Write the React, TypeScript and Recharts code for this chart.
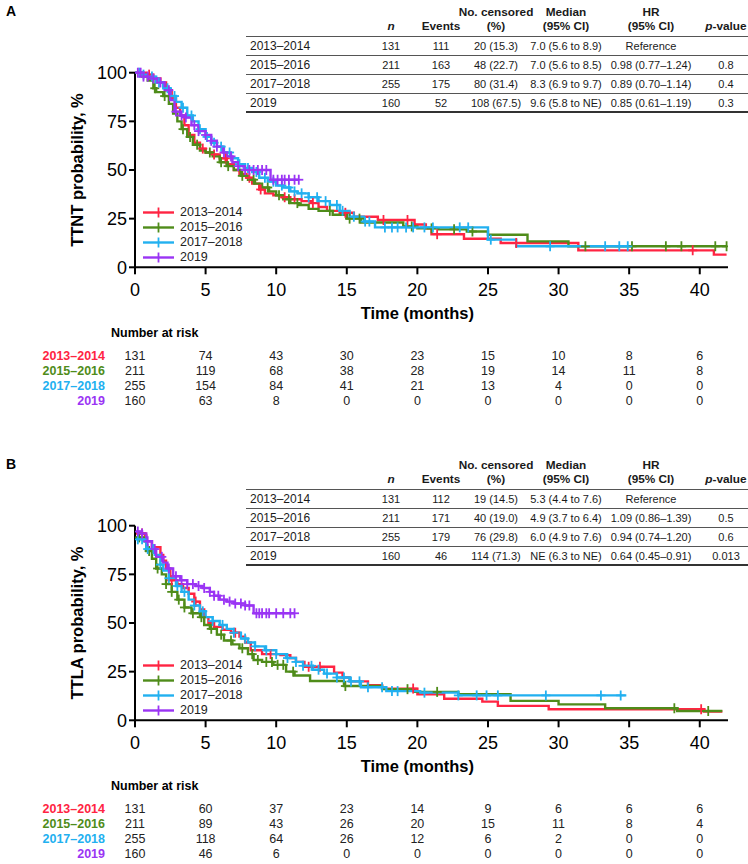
import React from "react";
import { ComposedChart, Line, Scatter, XAxis, YAxis, Legend } from "recharts";

const FONT = '"Liberation Sans", Arial, Helvetica, sans-serif';

const GROUPS = ["2013–2014", "2015–2016", "2017–2018", "2019"];
const COLORS = ["#ff2442", "#4f8c1a", "#22b0f0", "#9a34f4"];
const TIME_TICKS = [0, 5, 10, 15, 20, 25, 30, 35, 40];
const Y_TICKS = [0, 25, 50, 75, 100];

// Panel A – TTNT step curves [month, %]; last point = end of follow-up
const ttnt2013 = [[0, 100], [0.8, 99], [1.3, 97], [1.8, 95], [2.2, 91], [2.6, 87], [2.9, 82], [3.2, 78], [3.5, 73], [3.8, 68], [4.2, 64], [4.6, 61], [5.0, 59], [5.5, 58], [6.0, 56], [6.5, 53], [7.0, 50], [7.4, 48], [7.9, 46], [8.3, 43], [8.8, 40], [9.2, 38], [9.8, 37], [10.4, 36], [11.0, 35], [11.8, 34], [12.5, 33], [13.0, 31], [13.6, 29], [14.5, 28], [15.5, 26], [17.2, 24.3], [19.8, 22], [20.6, 20], [21.0, 17], [23.3, 14.7], [25.9, 12.5], [31.4, 8.7], [41.0, 6.5], [41.9, 6.5]];
const ttnt2015 = [[0, 100], [0.5, 98], [0.9, 96], [1.3, 92], [1.5, 90], [2.0, 88], [2.4, 84], [2.7, 79], [3.0, 75], [3.3, 71], [3.7, 67], [4.1, 63], [4.6, 60], [5.0, 59], [5.5, 57], [6.0, 54], [6.5, 52], [7.0, 50], [7.5, 47], [8.0, 45], [8.5, 43], [9.0, 41], [9.5, 39], [10.0, 37], [10.5, 35], [11.0, 33], [11.6, 32], [12.3, 30], [13.0, 29], [14.0, 27], [15.0, 25], [16.0, 23], [19.0, 21], [20.0, 20], [21.5, 19.5], [23.5, 18.4], [25.0, 16.7], [27.8, 13.3], [30.7, 10.8], [41.9, 10.8]];
const ttnt2017 = [[0, 100], [0.5, 99], [1.0, 98], [1.5, 95], [2.0, 92], [2.5, 88], [2.9, 85], [3.3, 82], [3.7, 78], [4.1, 75], [4.5, 71], [5.0, 67], [5.4, 64], [5.8, 62], [6.3, 59], [6.8, 56], [7.3, 53], [7.8, 51], [8.3, 49], [8.8, 46], [9.4, 44], [10.0, 42], [10.5, 41], [11.0, 39], [11.5, 38], [12.3, 36], [13.0, 34], [13.8, 32], [14.5, 29], [15.2, 26], [16.2, 23.5], [17.0, 20.5], [25.0, 14.2], [27.0, 10.8], [34.9, 10.8]];
const ttnt2019 = [[0, 100], [0.6, 98], [1.0, 97], [1.6, 95], [2.1, 91], [2.5, 86], [2.8, 80], [3.2, 78], [3.6, 77], [4.0, 73], [4.5, 70], [5.0, 68], [5.4, 65], [5.8, 62], [6.2, 59], [6.5, 57], [6.9, 54], [7.3, 52], [7.7, 50], [9.6, 45], [11.6, 45]];

const ttntCens2013 = [1.0, 4.8, 5.6, 6.4, 8.1, 8.9, 10.6, 11.3, 12.6, 14.9, 17.6, 19.3, 21.4, 27.0, 39.5];
const ttntCens2015 = [1.4, 2.1, 3.4, 3.9, 4.4, 5.3, 6.1, 6.6, 7.6, 8.4, 9.4, 10.2, 10.9, 11.5, 13.8, 15.2, 15.9, 19.6, 21.0, 22.6, 23.9, 31.9, 35.2, 37.6, 38.7, 41.1, 41.9];
const ttntCens2017 = [0.3, 0.6, 1.2, 1.7, 2.3, 2.8, 3.4, 4.0, 4.6, 5.1, 5.6, 6.1, 6.7, 7.4, 8.0, 8.6, 9.2, 9.8, 10.4, 10.9, 11.3, 11.8, 12.3, 12.9, 13.5, 14.3, 14.7, 15.5, 16.3, 16.6, 17.7, 18.2, 18.6, 19.2, 19.7, 20.5, 21.1, 23.0, 23.6, 25.2, 29.4, 33.3, 34.3, 34.9];
const ttntCens2019 = [0.2, 0.4, 0.6, 0.9, 1.3, 1.8, 2.4, 2.9, 3.3, 3.6, 4.2, 4.5, 5.0, 5.4, 5.8, 6.3, 6.8, 7.3, 7.8, 8.1, 8.4, 8.7, 9.0, 9.3, 9.8, 10.1, 10.4, 10.6, 10.9, 11.3, 11.6];

const ttntRisk2013 = [131, 74, 43, 30, 23, 15, 10, 8, 6];
const ttntRisk2015 = [211, 119, 68, 38, 28, 19, 14, 11, 8];
const ttntRisk2017 = [255, 154, 84, 41, 21, 13, 4, 0, 0];
const ttntRisk2019 = [160, 63, 8, 0, 0, 0, 0, 0, 0];

// Panel B – TTLA
const ttla2013 = [[0, 96], [0.7, 95], [0.8, 92], [1.2, 89], [1.8, 85], [2.0, 82], [2.2, 78], [2.5, 72], [3.0, 70], [3.4, 68], [3.8, 65], [4.2, 61], [4.6, 57], [4.9, 53], [5.2, 50], [5.6, 48], [6.2, 46.5], [6.8, 45], [7.4, 43], [7.8, 40], [8.2, 36], [9.0, 34], [10.3, 33.5], [11.0, 32], [11.4, 30], [12.0, 27.5], [14.1, 24.5], [14.7, 22], [15.2, 20], [16.5, 18], [17.5, 16.3], [20.0, 13.4], [21.9, 11.1], [24.6, 9.6], [25.7, 7.4], [29.3, 5.7], [40.3, 4.5], [41.6, 4.5]];
const ttla2015 = [[0, 94], [0.7, 92], [0.8, 87], [1.2, 83], [1.5, 78], [1.9, 75], [2.2, 70], [2.6, 66], [3.0, 62], [3.5, 58], [4.0, 55], [4.6, 53], [4.9, 49], [5.3, 47], [5.8, 44], [6.3, 41], [6.9, 39], [7.4, 37], [8.0, 34], [8.4, 31], [9.0, 30], [9.8, 28.5], [10.7, 25], [11.3, 23], [12.4, 20.2], [14.8, 17.6], [17.5, 16], [19.8, 14.6], [22.9, 13.4], [26.6, 10], [30.0, 8.2], [33.3, 6.2], [38.4, 4.8], [41.6, 4.8]];
const ttla2017 = [[0, 93], [0.6, 92], [0.8, 88], [1.4, 85], [1.8, 80], [2.0, 77], [2.4, 73], [2.9, 69], [3.3, 66], [3.8, 62], [4.2, 59], [4.6, 56], [5.0, 53], [5.5, 51], [6.0, 49], [6.5, 47], [7.0, 45], [7.5, 42], [8.0, 40], [8.5, 38], [9.2, 36], [10.0, 34], [10.7, 32], [11.4, 30], [11.9, 28], [12.6, 26], [13.4, 24], [14.3, 22], [15.2, 20], [16.0, 17], [17.8, 15], [20.2, 14.2], [22.9, 12.8], [34.8, 12.8]];
const ttla2019 = [[0, 97], [0.5, 96], [0.8, 92], [1.2, 88], [1.5, 84], [2.0, 81], [2.3, 78], [2.7, 74], [3.2, 72], [3.7, 70], [4.3, 69], [4.8, 68], [5.3, 66], [5.6, 64], [6.0, 62], [6.5, 61], [7.0, 60], [7.8, 59], [8.4, 55], [11.3, 55]];

const ttlaCens2013 = [0.5, 2.6, 4.3, 7.1, 9.6, 12.3, 13.1, 19.7, 40.1];
const ttlaCens2015 = [0.3, 1.0, 1.6, 2.2, 2.6, 3.1, 3.5, 4.1, 4.7, 5.4, 6.1, 6.8, 7.6, 8.3, 8.7, 9.3, 9.7, 10.1, 10.5, 11.2, 14.9, 19.3, 21.4, 38.2, 40.6];
const ttlaCens2017 = [0.2, 0.5, 0.9, 1.3, 1.8, 2.4, 3.0, 3.5, 4.2, 4.8, 5.5, 6.2, 7.0, 7.8, 8.5, 9.3, 10.0, 10.8, 11.4, 11.9, 12.5, 13.0, 13.6, 14.3, 14.8, 15.3, 15.9, 16.5, 17.5, 18.2, 18.6, 20.5, 22.9, 24.2, 24.9, 25.7, 29.1, 33.0, 34.4];
const ttlaCens2019 = [0.2, 0.5, 0.9, 1.4, 1.9, 2.4, 2.9, 3.3, 3.7, 4.1, 4.5, 4.9, 5.3, 5.6, 5.9, 6.3, 6.7, 7.1, 7.5, 7.8, 8.1, 8.6, 8.8, 9.0, 9.3, 9.5, 10.0, 10.5, 11.0, 11.3];

const ttlaRisk2013 = [131, 60, 37, 23, 14, 9, 6, 6, 6];
const ttlaRisk2015 = [211, 89, 43, 26, 20, 15, 11, 8, 4];
const ttlaRisk2017 = [255, 118, 64, 26, 12, 6, 2, 0, 0];
const ttlaRisk2019 = [160, 46, 6, 0, 0, 0, 0, 0, 0];

// summary tables
const ttntRows = [
  ["2013–2014", "131", "111", "20 (15.3)", "7.0 (5.6 to 8.9)", "Reference", ""],
  ["2015–2016", "211", "163", "48 (22.7)", "7.0 (5.6 to 8.5)", "0.98 (0.77–1.24)", "0.8"],
  ["2017–2018", "255", "175", "80 (31.4)", "8.3 (6.9 to 9.7)", "0.89 (0.70–1.14)", "0.4"],
  ["2019", "160", "52", "108 (67.5)", "9.6 (5.8 to NE)", "0.85 (0.61–1.19)", "0.3"],
];
const ttlaRows = [
  ["2013–2014", "131", "112", "19 (14.5)", "5.3 (4.4 to 7.6)", "Reference", ""],
  ["2015–2016", "211", "171", "40 (19.0)", "4.9 (3.7 to 6.4)", "1.09 (0.86–1.39)", "0.5"],
  ["2017–2018", "255", "179", "76 (29.8)", "6.0 (4.9 to 7.6)", "0.94 (0.74–1.20)", "0.6"],
  ["2019", "160", "46", "114 (71.3)", "NE (6.3 to NE)", "0.64 (0.45–0.91)", "0.013"],
];

const COL_X = [250, 391, 441, 496, 566, 651, 726];

const PLOT_TOP = 72.7;
const PLOT_H = 194.6;
const AXIS_Y = PLOT_TOP + PLOT_H;
const MAIN_AXIS_H = 84.3;
const RISK_H = 15;
const CHART_H = AXIS_Y + MAIN_AXIS_H + 4 * RISK_H + 6;

type Pt = number[];

function stepAt(curve: Pt[], t: number) {
  let s = curve[0][1];
  for (const [x, y] of curve) {
    if (x <= t) s = y;
    else break;
  }
  return s;
}

const plusShape = (color: string) => (p: any) => {
  const { cx, cy } = p;
  if (cx == null || cy == null) return <g />;
  return (
    <g stroke={color} strokeWidth={1.8}>
      <line x1={cx - 4.5} x2={cx + 4.5} y1={cy} y2={cy} />
      <line x1={cx} x2={cx} y1={cy - 5} y2={cy + 5} />
    </g>
  );
};

function LegendBox() {
  return (
    <div style={{ fontFamily: FONT, fontSize: 12.5, color: "#222" }}>
      {GROUPS.map((g, i) => (
        <div key={g} style={{ display: "flex", alignItems: "center", height: 15 }}>
          <svg width={34} height={15} style={{ display: "block" }}>
            <line x1={3} x2={34} y1={7.5} y2={7.5} stroke={COLORS[i]} strokeWidth={2.4} />
            <line x1={18.5} x2={18.5} y1={2.5} y2={12.5} stroke={COLORS[i]} strokeWidth={1.8} />
          </svg>
          <span style={{ marginLeft: 6, lineHeight: "15px" }}>{g}</span>
        </div>
      ))}
    </div>
  );
}

function StatsTable({ rows }: { rows: string[][] }) {
  const cell = (text: React.ReactNode, cx: number, cy: number, bold = false, key?: string) => (
    <div
      key={key}
      style={{
        position: "absolute",
        left: cx - 70,
        width: 140,
        top: cy - 8,
        height: 16,
        lineHeight: "16px",
        textAlign: "center",
        fontWeight: bold ? 700 : 400,
        fontSize: bold ? 11.8 : 11,
        whiteSpace: "nowrap",
      }}
    >
      {text}
    </div>
  );
  const lines = [36, 55, 74, 93, 112];
  return (
    <div style={{ position: "absolute", left: 0, top: 0, width: 748, height: 120, fontFamily: FONT, color: "#1a1a1a" }}>
      {cell("No. censored", COL_X[3], 11.7, true, "h1")}
      {cell("Median", COL_X[4], 11.7, true, "h2")}
      {cell("HR", COL_X[5], 11.7, true, "h3")}
      {cell(<i>n</i>, COL_X[1], 26, true, "h4")}
      {cell("Events", COL_X[2], 26, true, "h5")}
      {cell("(%)", COL_X[3], 26, true, "h6")}
      {cell("(95% CI)", COL_X[4], 26, true, "h7")}
      {cell("(95% CI)", COL_X[5], 26, true, "h8")}
      {cell(<span><i>p</i>-value</span>, 726, 26, true, "h9")}
      {lines.map((y, i) => (
        <div
          key={"l" + i}
          style={{
            position: "absolute",
            left: 246,
            width: 502,
            top: y - (i === 4 ? 1 : 0.5),
            height: i === 4 ? 2 : 1,
            background: i === 4 ? "#333" : "#555",
          }}
        />
      ))}
      {rows.map((r, i) => {
        const cy = 45.5 + i * 19;
        return (
          <React.Fragment key={"r" + i}>
            <div
              style={{
                position: "absolute",
                left: COL_X[0],
                top: cy - 8,
                height: 16,
                lineHeight: "16px",
                fontSize: 12,
                whiteSpace: "nowrap",
              }}
            >
              {r[0]}
            </div>
            {r.slice(1).map((v, j) => cell(v, COL_X[j + 1], cy, false, "c" + i + "-" + j))}
          </React.Fragment>
        );
      })}
    </div>
  );
}

interface PanelProps {
  top: number;
  letter: string;
  yLabel: string;
  curves: Pt[][];
  censors: number[][];
  risks: number[][];
  rows: string[][];
}

function KMPanel({ top, letter, yLabel, curves, censors, risks, rows }: PanelProps) {
  return (
    <div style={{ position: "absolute", left: 0, top, width: 748, height: CHART_H }}>
      <div style={{ position: "absolute", left: 6, top: 3, fontFamily: FONT, fontWeight: 700, fontSize: 14 }}>{letter}</div>
      <ComposedChart
        width={748}
        height={CHART_H}
        margin={{ top: PLOT_TOP, right: 20, bottom: 6, left: 75 }}
        style={{ fontFamily: FONT }}
      >
        <YAxis
          dataKey="s"
          type="number"
          domain={[0, 100]}
          ticks={Y_TICKS}
          interval={0}
          width={60}
          axisLine={{ stroke: "#000", strokeWidth: 2 }}
          tickLine={{ stroke: "#000", strokeWidth: 2 }}
          tickSize={6}
          tickMargin={2}
          tick={{ fontSize: 18, fill: "#000", fontFamily: FONT }}
          label={(p: any) => {
            const vb = (p && p.viewBox) || { x: 75, y: PLOT_TOP, width: 60, height: PLOT_H };
            const x = vb.x + 2;
            const y = vb.y + vb.height / 2;
            return (
              <text
                x={x}
                y={y}
                transform={`rotate(-90 ${x} ${y})`}
                textAnchor="middle"
                dy="0.36em"
                fontSize={16.5}
                fontWeight={700}
                fontFamily={FONT}
                fill="#000"
              >
                {yLabel}
              </text>
            );
          }}
        />
        <XAxis
          xAxisId="main"
          dataKey="t"
          type="number"
          domain={[0, 42]}
          allowDataOverflow
          ticks={TIME_TICKS}
          interval={0}
          height={MAIN_AXIS_H}
          axisLine={{ stroke: "#000", strokeWidth: 2 }}
          tickLine={{ stroke: "#000", strokeWidth: 2 }}
          tickSize={7}
          tickMargin={9.4}
          tick={{ fontSize: 18, fill: "#000", fontFamily: FONT }}
          label={(p: any) => {
            const vb = (p && p.viewBox) || { x: 135, y: AXIS_Y, width: 593, height: MAIN_AXIS_H };
            const cx = vb.x + (vb.width * 20) / 42;
            return (
              <g fontFamily={FONT} fontWeight={700} fill="#000">
                <text x={cx} y={vb.y + 51.8} textAnchor="middle" fontSize={16.5}>
                  Time (months)
                </text>
                <text x={111} y={vb.y + 69.3} textAnchor="start" fontSize={12.5}>
                  Number at risk
                </text>
              </g>
            );
          }}
        />
        {risks.map((row, i) => (
          <XAxis
            key={"risk" + i}
            xAxisId={"risk" + i}
            dataKey="t"
            type="number"
            domain={[0, 42]}
            allowDataOverflow
            ticks={TIME_TICKS}
            interval={0}
            height={RISK_H}
            axisLine={false}
            tickLine={false}
            tickSize={0}
            tickMargin={0}
            tickFormatter={(v: number) => String(row[TIME_TICKS.indexOf(v)])}
            tick={{ fontSize: 12.5, fill: "#222", fontFamily: FONT }}
            label={(p: any) => {
              const vb = (p && p.viewBox) || { x: 135, y: AXIS_Y + MAIN_AXIS_H + i * RISK_H, width: 593, height: RISK_H };
              return (
                <text
                  x={105}
                  y={vb.y + 8.9}
                  textAnchor="end"
                  fontSize={12.5}
                  fontWeight={700}
                  fontFamily={FONT}
                  fill={COLORS[i]}
                >
                  {GROUPS[i]}
                </text>
              );
            }}
          />
        ))}
        {curves.map((curve, i) => (
          <Line
            key={"line" + i}
            xAxisId="main"
            data={curve.map(([t, s]) => ({ t, s }))}
            dataKey="s"
            type="stepAfter"
            stroke={COLORS[i]}
            strokeWidth={2.4}
            dot={false}
            activeDot={false}
            legendType="none"
            isAnimationActive={false}
          />
        ))}
        {censors.map((times, i) => (
          <Scatter
            key={"cens" + i}
            xAxisId="main"
            data={times.map((t) => ({ t, s: stepAt(curves[i], t) }))}
            dataKey="s"
            shape={plusShape(COLORS[i])}
            legendType="none"
            isAnimationActive={false}
          />
        ))}
        <Legend
          layout="vertical"
          align="center"
          verticalAlign="middle"
          wrapperStyle={{ left: 140, top: AXIS_Y - 62.8, width: 120 }}
          content={() => <LegendBox />}
        />
      </ComposedChart>
      <StatsTable rows={rows} />
    </div>
  );
}

export default function App() {
  return (
    <div style={{ position: "absolute", left: 0, top: 0, width: 748, height: 864, background: "#fff" }}>
      <KMPanel
        top={0}
        letter="A"
        yLabel="TTNT probability, %"
        curves={[ttnt2013, ttnt2015, ttnt2017, ttnt2019]}
        censors={[ttntCens2013, ttntCens2015, ttntCens2017, ttntCens2019]}
        risks={[ttntRisk2013, ttntRisk2015, ttntRisk2017, ttntRisk2019]}
        rows={ttntRows}
      />
      <KMPanel
        top={453}
        letter="B"
        yLabel="TTLA probability, %"
        curves={[ttla2013, ttla2015, ttla2017, ttla2019]}
        censors={[ttlaCens2013, ttlaCens2015, ttlaCens2017, ttlaCens2019]}
        risks={[ttlaRisk2013, ttlaRisk2015, ttlaRisk2017, ttlaRisk2019]}
        rows={ttlaRows}
      />
    </div>
  );
}
